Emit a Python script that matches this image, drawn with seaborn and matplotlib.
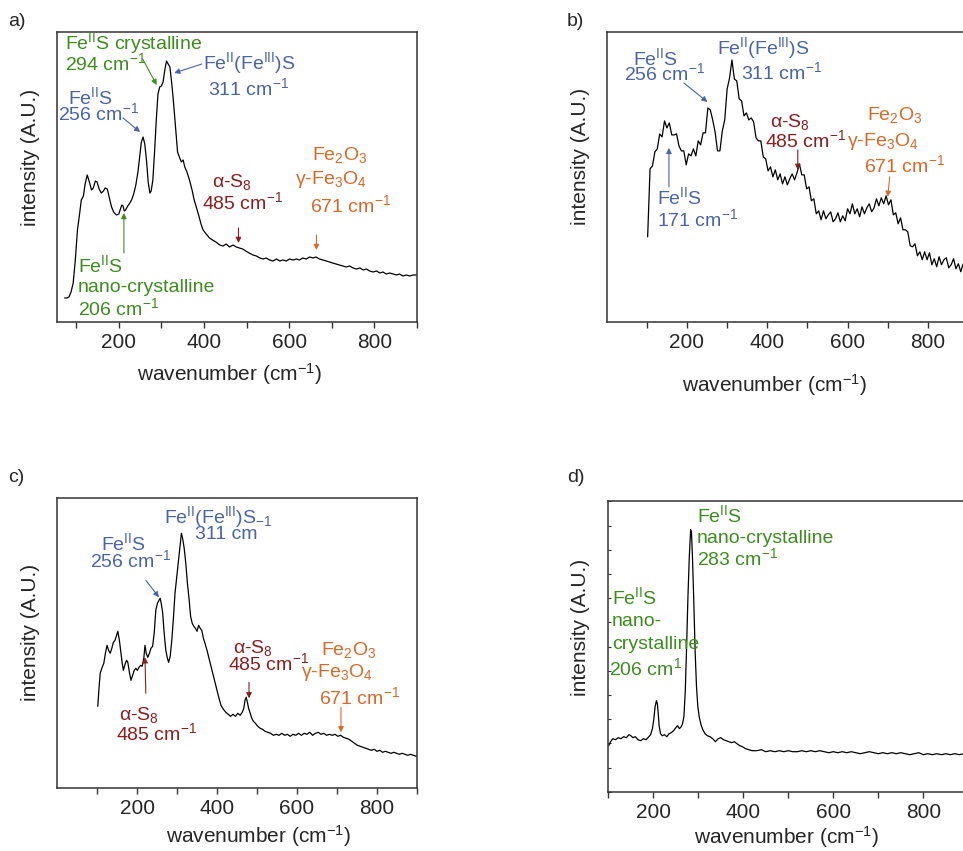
import matplotlib
matplotlib.use("Agg")
import matplotlib.pyplot as plt
import seaborn as sns
import pandas as pd
from matplotlib.ticker import MultipleLocator, FixedLocator, NullFormatter

# ---------------------------------------------------------------- spectra
# a) Raman spectrum
a_wn = [73, 78, 83, 88, 93, 98, 103, 108, 112, 117, 121, 126, 131, 136, 140, 145, 149, 154,
        159, 164, 168, 173, 178, 183, 188, 192, 195, 200, 204, 207, 210, 213, 216, 221, 226,
        230, 235, 240, 245, 249, 253, 257, 261, 265, 269, 273, 276, 280, 284, 288, 292, 296,
        300, 304, 308, 312, 316, 320, 324, 328, 333, 338, 343, 347, 351, 355, 360, 366, 372,
        377, 382, 388, 393, 398, 405, 413, 420, 428, 437, 445, 452, 460, 468, 476, 483, 491,
        498, 506, 515, 523, 531, 539, 546, 554, 562, 570, 578, 585, 593, 601, 609, 617, 624,
        632, 640, 648, 656, 663, 671, 679, 687, 695, 702, 710, 718, 726, 734, 742, 750, 758,
        766, 774, 781, 789, 797, 805, 813, 820, 828, 836, 844, 852, 859, 867, 875, 883, 891, 898]
a_int = [24, 24, 25, 30, 39, 62, 92, 108, 122, 126, 138, 147, 140, 132, 134, 141, 140, 133,
         129, 131, 134, 133, 124, 115, 110, 108, 107, 108, 113, 117, 116, 111, 112, 116, 119,
         122, 128, 137, 150, 165, 180, 185, 178, 162, 140, 129, 131, 142, 170, 202, 228, 235,
         236, 240, 252, 261, 258, 255, 240, 222, 196, 170, 164, 160, 162, 155, 150, 142, 132,
         122, 115, 106, 98, 92, 88, 84, 82, 80, 77, 76, 78, 75, 77, 75, 74, 73,
         71, 69, 67, 66, 64, 63, 64, 62, 61, 63, 61, 62, 61, 63, 62, 63, 62,
         64, 63, 65, 64, 65, 63, 62, 61, 60, 59, 58, 57, 56, 55, 56, 54, 53,
         54, 52, 53, 51, 50, 51, 49, 50, 48, 49, 48, 47, 48, 46, 47, 46, 47, 47]

# b) Raman spectrum
b_wn = [102, 108, 114, 120, 126, 132, 138, 144, 150, 156, 162, 168, 174, 180, 186, 192, 198,
        204, 210, 216, 222, 228, 234, 240, 246, 252, 258, 264, 270, 276, 282, 288, 294, 300,
        306, 312, 318, 324, 330, 336, 342, 348, 354, 360, 366, 372, 378, 384, 390, 396, 402,
        408, 414, 420, 426, 432, 438, 444, 450, 456, 462, 468, 474, 480, 486, 492, 498, 504,
        510, 516, 522, 528, 534, 540, 546, 552, 558, 564, 570, 576, 582, 588, 594, 600, 606,
        612, 618, 624, 630, 636, 642, 648, 654, 660, 666, 672, 678, 684, 690, 696, 702, 708,
        714, 720, 726, 732, 738, 744, 750, 756, 762, 768, 774, 780, 786, 792, 798, 804, 810,
        816, 822, 828, 834, 840, 846, 852, 858, 864, 870, 876, 882, 888, 894, 900]
b_int = [85, 153, 156, 170, 173, 188, 185, 201, 194, 199, 187, 187, 188, 176, 171, 171, 157,
         168, 166, 173, 166, 181, 177, 189, 189, 214, 212, 202, 190, 171, 171, 191, 202, 233,
         244, 262, 243, 241, 223, 221, 206, 209, 202, 204, 200, 184, 181, 181, 165, 163, 151,
         155, 145, 152, 142, 148, 138, 145, 137, 143, 148, 142, 149, 158, 147, 147, 133, 135,
         121, 123, 108, 111, 102, 111, 103, 107, 110, 100, 103, 109, 100, 106, 101, 113, 108,
         118, 108, 113, 105, 115, 108, 114, 118, 110, 114, 123, 116, 124, 118, 126, 117, 122,
         107, 109, 98, 104, 92, 92, 90, 76, 75, 78, 66, 70, 62, 70, 62, 69, 57,
         63, 55, 65, 57, 62, 64, 54, 57, 63, 53, 58, 50, 58, 51, 55]

# c) Raman spectrum
c_wn = [102, 105, 108, 112, 117, 121, 125, 129, 133, 137, 141, 145, 149, 152, 156, 160, 163,
        166, 170, 174, 177, 181, 185, 189, 193, 197, 201, 205, 209, 213, 217, 220, 223, 227,
        231, 235, 239, 243, 247, 251, 255, 258, 261, 264, 268, 272, 276, 279, 283, 287, 291,
        295, 299, 303, 307, 311, 314, 318, 322, 326, 330, 334, 338, 342, 346, 350, 354, 358,
        362, 366, 370, 375, 380, 385, 390, 395, 400, 405, 410, 416, 422, 428, 434, 440, 446,
        452, 458, 463, 467, 470, 473, 476, 479, 483, 487, 491, 496, 502, 508, 514, 520, 527,
        534, 541, 548, 555, 562, 569, 576, 583, 590, 597, 604, 611, 618, 625, 632, 639, 646,
        653, 660, 667, 674, 681, 688, 695, 702, 709, 716, 723, 730, 737, 744, 751, 758, 765,
        772, 779, 786, 793, 800, 807, 814, 821, 828, 835, 842, 849, 856, 863, 870, 877, 884,
        891, 898]
c_int = [82, 100, 115, 120, 125, 135, 143, 138, 135, 140, 146, 148, 153, 157, 148, 135, 125,
         118, 124, 128, 126, 116, 108, 113, 118, 120, 118, 121, 123, 122, 130, 143, 135, 131,
         135, 140, 142, 155, 178, 185, 188, 190, 184, 176, 155, 138, 130, 126, 132, 148, 170,
         195, 210, 225, 240, 255, 250, 240, 225, 205, 190, 172, 165, 162, 160, 157, 163, 160,
         158, 150, 145, 138, 130, 122, 114, 106, 98, 90, 83, 79, 76, 74, 72, 74, 72,
         75, 73, 76, 80, 88, 91, 86, 80, 75, 70, 67, 65, 62, 60, 59, 57, 56,
         55, 53, 54, 53, 55, 53, 54, 52, 54, 53, 55, 53, 55, 54, 56, 53, 55,
         56, 54, 55, 53, 54, 53, 54, 52, 53, 51, 50, 49, 47, 45, 43, 42, 41,
         40, 39, 38, 39, 37, 38, 36, 37, 36, 35, 36, 35, 34, 35, 34, 33, 34,
         33, 32]

# d) Raman spectrum
d_wn = [101, 105, 110, 116, 122, 128, 134, 140, 146, 150, 155, 160, 166, 172, 178, 184, 190,
        194, 198, 201, 204, 207, 209, 211, 213, 216, 220, 225, 230, 235, 240, 245, 250, 254,
        258, 262, 265, 268, 271, 274, 277, 280, 283, 285, 287, 290, 293, 296, 299, 302, 306,
        310, 315, 320, 326, 332, 338, 344, 350, 356, 362, 368, 374, 380, 386, 392, 398, 405,
        412, 420, 430, 440, 450, 460, 470, 480, 490, 500, 510, 520, 530, 540, 550, 560, 570,
        580, 590, 600, 610, 620, 630, 640, 650, 660, 670, 680, 690, 700, 710, 720, 730, 740,
        750, 760, 770, 780, 790, 800, 810, 820, 830, 840, 850, 860, 870, 880, 890, 900]
d_int = [46, 50, 53, 52, 54, 53, 55, 54, 57, 56, 54, 55, 52, 51, 53, 52, 55,
         57, 63, 72, 85, 91, 88, 78, 66, 58, 56, 57, 55, 58, 59, 61, 64, 66,
         63, 65, 68, 75, 100, 145, 195, 235, 262, 258, 235, 190, 140, 105, 85, 75, 67,
         62, 58, 56, 55, 53, 50, 53, 54, 52, 51, 50, 49, 50, 48, 46, 45, 43,
         42, 41, 41, 42, 40, 41, 40, 41, 40, 41, 40, 40, 41, 40, 41, 40, 41,
         40, 39, 40, 39, 40, 39, 40, 39, 38, 39, 40, 39, 38, 39, 38, 39, 38,
         39, 38, 37, 38, 39, 37, 38, 37, 38, 37, 38, 37, 38, 37, 38, 37]

x_ticks = [200, 400, 600, 800]
x_minor = [100, 300, 500, 700, 900]

# ---------------------------------------------------------------- style
sns.set_theme(style="white")
plt.rcParams["font.family"] = ["Liberation Sans", "DejaVu Sans"]
plt.rcParams["mathtext.fontset"] = "custom"
plt.rcParams["mathtext.rm"] = "Liberation Sans"
plt.rcParams["mathtext.it"] = "Liberation Sans:italic"
plt.rcParams["mathtext.bf"] = "Liberation Sans:bold"
plt.rcParams["axes.edgecolor"] = "#333333"
plt.rcParams["axes.linewidth"] = 1.1

BLUE = "#4a64a8"
GREEN = "#3d8c1f"
DARKRED = "#8b1e1e"
ORANGE = "#d8692b"

W, H = 963, 851
fig = plt.figure(figsize=(W / 100, H / 100), dpi=100)


def add_axes(left, top, right, bottom):
    return fig.add_axes([left / W, 1 - bottom / H, (right - left) / W, (bottom - top) / H])


def draw(ax, wn, inten, xlim, ylim):
    df = pd.DataFrame({"wavenumber": wn, "intensity": inten})
    sns.lineplot(data=df, x="wavenumber", y="intensity", ax=ax, color="black",
                 linewidth=0.9, estimator=None, sort=False)
    ax.set_xlim(*xlim)
    ax.set_ylim(*ylim)
    ax.xaxis.set_major_locator(FixedLocator(x_ticks))
    ax.xaxis.set_minor_locator(FixedLocator(x_minor))
    ax.xaxis.set_minor_formatter(NullFormatter())
    ax.tick_params(axis="x", which="both", direction="out", bottom=True, length=4,
                   width=1, color="#333333", labelsize=15, pad=4)
    ax.tick_params(axis="y", which="both", left=False, labelleft=False)
    ax.set_xlabel("wavenumber (cm$^{-1}$)", fontsize=15)
    ax.set_ylabel("intensity (A.U.)", fontsize=15)
    for s in ax.spines.values():
        s.set_visible(True)


def txt(ax, x, y, s, color):
    ax.text(x, y, s, color=color, fontsize=14, ha="left", va="center")


def arrow(ax, tail, tip, color):
    ax.annotate("", xy=tip, xytext=tail,
                arrowprops=dict(arrowstyle="-|>", color=color, lw=0.8,
                                mutation_scale=8, shrinkA=0, shrinkB=0))


FEIIS = r"Fe$^{\mathrm{II}}$S"
FEFES = r"Fe$^{\mathrm{II}}$(Fe$^{\mathrm{III}}$)S"
S8 = "α-S$_{8}$"
FE2O3 = "Fe$_{2}$O$_{3}$"
FE3O4 = "γ-Fe$_{3}$O$_{4}$"

# ---------------------------------------------------------------- panel a
ax = add_axes(57, 32, 417, 322)
draw(ax, a_wn, a_int, (55, 900), (0, 290))
ax.xaxis.set_label_coords(0.478, -0.135)
ax.yaxis.set_label_coords(-0.047, 0.566)
txt(ax, 73, 279, FEIIS + " crystalline", GREEN)
txt(ax, 73, 259, "294 cm$^{-1}$", GREEN)
arrow(ax, (256, 263), (289, 237), GREEN)
txt(ax, 397, 259, FEFES, BLUE)
txt(ax, 409, 234, "311 cm$^{-1}$", BLUE)
arrow(ax, (395, 258), (330, 249), BLUE)
txt(ax, 80, 225, FEIIS, BLUE)
txt(ax, 57, 209, "256 cm$^{-1}$", BLUE)
arrow(ax, (210, 204), (250, 190), BLUE)
txt(ax, 418, 140, S8, DARKRED)
txt(ax, 395, 120, "485 cm$^{-1}$", DARKRED)
arrow(ax, (481, 94), (481, 79), DARKRED)
txt(ax, 653, 167, FE2O3, ORANGE)
txt(ax, 613, 142, FE3O4, ORANGE)
txt(ax, 648, 117, "671 cm$^{-1}$", ORANGE)
arrow(ax, (664, 87), (664, 72), ORANGE)
txt(ax, 104, 57, FEIIS, GREEN)
txt(ax, 104, 35, "nano-crystalline", GREEN)
txt(ax, 104, 14, "206 cm$^{-1}$", GREEN)
arrow(ax, (212, 69), (212, 109), GREEN)

# ---------------------------------------------------------------- panel b
ax = add_axes(606.7, 32, 968, 321.7)
draw(ax, b_wn, b_int, (0, 900), (0, 290))
ax.xaxis.set_label_coords(0.466, -0.175)
ax.yaxis.set_label_coords(-0.046, 0.571)
txt(ax, 65, 264, FEIIS, BLUE)
txt(ax, 43, 249, "256 cm$^{-1}$", BLUE)
arrow(ax, (192, 239), (251, 220), BLUE)
txt(ax, 276, 274, FEFES, BLUE)
txt(ax, 334, 250, "311 cm$^{-1}$", BLUE)
txt(ax, 125, 125, FEIIS, BLUE)
txt(ax, 125, 103, "171 cm$^{-1}$", BLUE)
arrow(ax, (155, 135), (155, 174), BLUE)
txt(ax, 407, 200, S8, DARKRED)
txt(ax, 394, 182, "485 cm$^{-1}$", DARKRED)
arrow(ax, (476, 172), (476, 152), DARKRED)
txt(ax, 648, 207, FE2O3, ORANGE)
txt(ax, 598, 180, FE3O4, ORANGE)
txt(ax, 641, 157, "671 cm$^{-1}$", ORANGE)
arrow(ax, (705, 145), (700, 125), ORANGE)

# ---------------------------------------------------------------- panel c
ax = add_axes(57, 498.3, 417, 788.3)
draw(ax, c_wn, c_int, (0, 900), (0, 290))
ax.xaxis.set_label_coords(0.561, -0.12)
ax.yaxis.set_label_coords(-0.047, 0.539)
txt(ax, 110, 245, FEIIS, BLUE)
txt(ax, 82, 228, "256 cm$^{-1}$", BLUE)
arrow(ax, (222, 208), (255, 191), BLUE)
txt(ax, 267, 271, FEFES + "$_{-1}$", BLUE)
txt(ax, 345, 254, "311 cm", BLUE)
txt(ax, 155, 73, S8, DARKRED)
txt(ax, 147, 55, "485 cm$^{-1}$", DARKRED)
arrow(ax, (222, 95), (220, 131), DARKRED)
txt(ax, 440, 140, S8, DARKRED)
txt(ax, 427, 125, "485 cm$^{-1}$", DARKRED)
arrow(ax, (480, 106), (480, 90), DARKRED)
txt(ax, 660, 138, FE2O3, ORANGE)
txt(ax, 610, 116, FE3O4, ORANGE)
txt(ax, 655, 91, "671 cm$^{-1}$", ORANGE)
arrow(ax, (710, 81), (710, 56), ORANGE)

# ---------------------------------------------------------------- panel d
ax = add_axes(608.3, 500.7, 968.3, 791.7)
draw(ax, d_wn, d_int, (100, 900), (0, 291))
ax.yaxis.set_major_locator(MultipleLocator(24.2))
ax.tick_params(axis="y", which="major", left=True, direction="in", length=2.5,
               width=0.8, color="#333333", labelleft=False)
ax.xaxis.set_label_coords(0.496, -0.112)
ax.yaxis.set_label_coords(-0.051, 0.563)
txt(ax, 296, 277, FEIIS, GREEN)
txt(ax, 296, 253, "nano-crystalline", GREEN)
txt(ax, 296, 234, "283 cm$^{-1}$", GREEN)
txt(ax, 108, 195, FEIIS, GREEN)
txt(ax, 108, 170, "nano-", GREEN)
txt(ax, 108, 147, "crystalline", GREEN)
txt(ax, 102, 124, "206 cm$^{1}$", GREEN)

# ---------------------------------------------------------------- panel letters
for s, (px, py) in {"a)": (8, 22), "b)": (567, 22), "c)": (8, 477), "d)": (567, 477)}.items():
    fig.text(px / W, 1 - py / H, s, fontsize=14, ha="left", va="center")

fig.savefig("out.png", dpi=100)
